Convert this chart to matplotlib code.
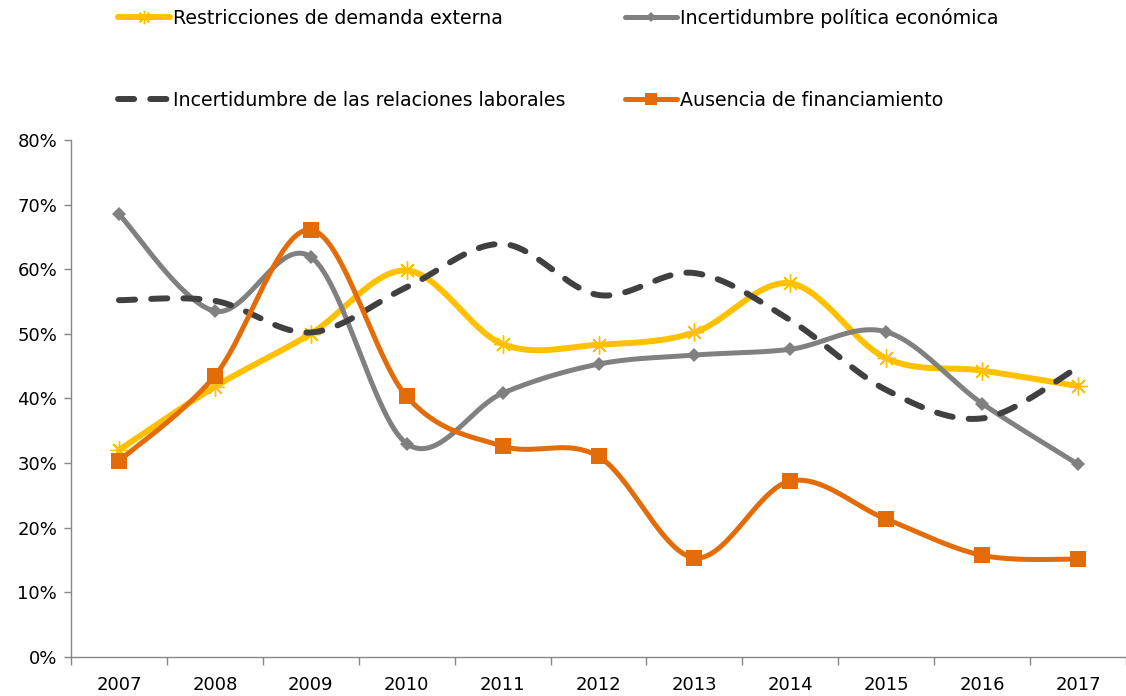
import numpy as np
import matplotlib
matplotlib.use('Agg')
import matplotlib.pyplot as plt
from matplotlib.ticker import FuncFormatter

years = ['2007', '2008', '2009', '2010', '2011', '2012', '2013', '2014', '2015', '2016', '2017']

# values in percent
restricciones = [32.0, 41.8, 50.0, 59.8, 48.4, 48.3, 50.2, 57.8, 46.2, 44.3, 41.9]
politica = [68.5, 53.5, 61.9, 33.0, 40.8, 45.3, 46.7, 47.6, 50.3, 39.2, 29.8]
laborales = [55.2, 55.1, 50.2, 57.2, 63.9, 56.0, 59.4, 52.1, 41.3, 36.9, 44.8]
financiamiento = [30.3, 43.5, 66.1, 40.3, 32.6, 31.0, 15.3, 27.2, 21.3, 15.7, 15.1]

labels = ['Restricciones de demanda externa', 'Incertidumbre política económica',
          'Incertidumbre de las relaciones laborales', 'Ausencia de financiamiento']


def smooth(x, y, n=40):
    # bezier curve through the points, like Excel's smoothed line
    x = np.asarray(x, float)
    y = np.asarray(y, float)
    px = np.concatenate([[x[0]], x, [x[-1]]])
    py = np.concatenate([[y[0]], y, [y[-1]]])
    t = np.linspace(0, 1, n)
    xs, ys = [], []
    for i in range(len(x) - 1):
        p0 = np.array([px[i + 1], py[i + 1]])
        p3 = np.array([px[i + 2], py[i + 2]])
        c1 = p0 + (np.array([px[i + 2], py[i + 2]]) - np.array([px[i], py[i]])) / 6
        c2 = p3 - (np.array([px[i + 3], py[i + 3]]) - np.array([px[i + 1], py[i + 1]])) / 6
        b = ((1 - t) ** 3)[:, None] * p0 + (3 * (1 - t) ** 2 * t)[:, None] * c1 \
            + (3 * (1 - t) * t ** 2)[:, None] * c2 + (t ** 3)[:, None] * p3
        xs.append(b[:, 0])
        ys.append(b[:, 1])
    return np.concatenate(xs), np.concatenate(ys)


fig = plt.figure(figsize=(11.26, 6.96), dpi=100)
ax = fig.add_axes([71 / 1126, 39.3 / 696, 1055 / 1126, 516.7 / 696])

x = np.arange(len(years))

styles = [
    dict(color='#FFC000', lw=4.3, marker=(8, 2, 0), ms=13, mew=1.0, mec='#FFC000', ls='-'),
    dict(color='#808080', lw=3.6, marker='D', ms=7, mew=0, mec='#808080', ls='-'),
    dict(color='#404040', lw=4.3, marker=None, ms=0, mew=0, mec='#404040', ls='--'),
    dict(color='#E36C09', lw=3.6, marker='s', ms=11, mew=0, mec='#E36C09', ls='-'),
]
series = [restricciones, politica, laborales, financiamiento]
handles = []
for vals, st, lab in zip(series, styles, labels):
    sx, sy = smooth(x, vals)
    line, = ax.plot(sx, sy, color=st['color'], lw=st['lw'], ls=st['ls'],
                    solid_capstyle='round', dash_capstyle='round')
    if st['ls'] == '--':
        line.set_dashes((2.7, 2.7))
    if st['marker'] is not None:
        ax.plot(x, vals, ls='none', marker=st['marker'], ms=st['ms'], mew=st['mew'],
                mfc=st['color'], mec=st['mec'])
    h = plt.Line2D([], [], color=st['color'], lw=st['lw'], ls=st['ls'],
                   marker=st['marker'], ms=st['ms'] * 0.75, mew=st['mew'],
                   mfc=st['color'], mec=st['mec'],
                   solid_capstyle='round', dash_capstyle='round')
    if st['ls'] == '--':
        h.set_dashes((2.7, 2.7))
    handles.append(h)

ax.set_xlim(-0.5, 10.42)
ax.set_ylim(0, 80)
ax.set_yticks(np.arange(0, 81, 10))
ax.yaxis.set_major_formatter(FuncFormatter(lambda v, p: f'{v:.0f}%'))
ax.set_xticks(x)
ax.set_xticklabels(years)
ax.set_xticks(np.arange(-0.5, 11, 1), minor=True)

for s in ['top', 'right']:
    ax.spines[s].set_visible(False)
for s in ['left', 'bottom']:
    ax.spines[s].set_color('#868686')
    ax.spines[s].set_linewidth(1.0)

ax.tick_params(axis='x', which='major', length=0, pad=14, labelsize=13, colors='black')
ax.tick_params(axis='x', which='minor', length=6, color='#868686', width=1.0)
ax.tick_params(axis='y', length=5, color='#868686', width=1.0, pad=5, labelsize=13)

order = [0, 2, 1, 3]
fig.legend([handles[i] for i in order], [labels[i] for i in order],
           loc='upper left', bbox_to_anchor=(118 / 1126, 1 - 8 / 696),
           ncol=2, frameon=False, fontsize=13.7, borderpad=0, borderaxespad=0,
           handlelength=2.75, handletextpad=0.15, columnspacing=3.1,
           labelspacing=3.3)

fig.savefig('out.png', dpi=100)
